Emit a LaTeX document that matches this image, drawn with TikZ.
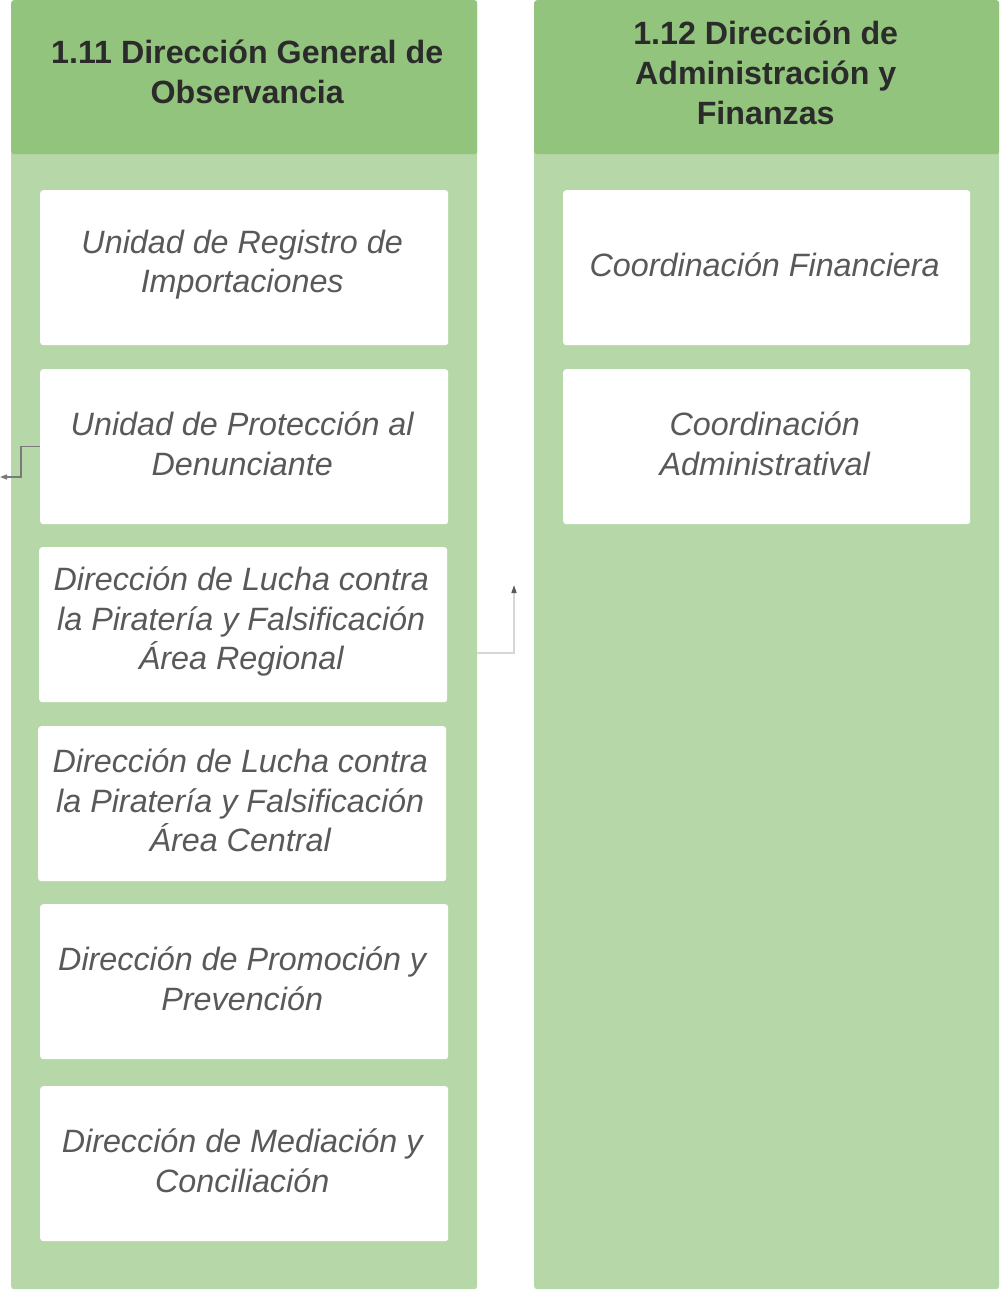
\documentclass[tikz,border=0pt]{standalone}
\usepackage{fontspec}
\setmainfont{Liberation Sans}
\usetikzlibrary{arrows.meta}
\definecolor{hdr}{HTML}{93C47D}
\definecolor{bod}{HTML}{B6D7A8}
\definecolor{htxt}{HTML}{2B2B2B}
\definecolor{btxt}{HTML}{595959}
\definecolor{lnA}{HTML}{7A7A7A}
\definecolor{lnB}{HTML}{D6D6D6}
\begin{document}
\begin{tikzpicture}[x=1pt,y=-1pt,
  colbody/.style={fill=bod, rounded corners=3pt, inner sep=0pt, anchor=north west, minimum width=466pt, minimum height=1289pt},
  colhead/.style={fill=hdr, rounded corners=3pt, inner sep=0pt, anchor=north west, minimum width=466pt, minimum height=154pt},
  htitle/.style={text=htxt, font=\bfseries\fontsize{32.2}{40}\selectfont, align=center, inner sep=0pt},
  unitbox/.style={fill=white, rounded corners=3pt, inner sep=0pt, anchor=north west, minimum width=408pt, minimum height=155pt},
  utxt/.style={text=btxt, font=\itshape\fontsize{32.3}{39.5}\selectfont, align=center, inner sep=0pt},
  connA/.style={draw=lnA, line width=1.3pt, -{Triangle[length=7pt,width=5pt]}},
  connB/.style={draw=lnB, line width=1.5pt, -{Triangle[length=8pt,width=5pt,color=btxt]}}
]
\useasboundingbox (0,0) rectangle (1000,1290);
% columns
\node[colbody] (c1) at (11,0) {};
\node[colbody, minimum width=465pt] (c2) at (534,0) {};
\node[colhead] (h1) at (11,0) {};
\node[colhead, minimum width=465pt] (h2) at (534,0) {};
\node[htitle] (h1t) at ([xshift=3pt,yshift=5pt]h1.center) {1.11 Dirección General de\\Observancia};
\node[htitle] (h2t) at ([xshift=-1pt,yshift=4.5pt]h2.center) {1.12 Dirección de\\Administración y\\Finanzas};
% left boxes
\node[unitbox] (b1) at (40,190) {};
\node[unitbox] (b2) at (40,369) {};
\node[unitbox] (b3) at (39,547) {};
\node[unitbox] (b4) at (38,726) {};
\node[unitbox] (b5) at (40,904) {};
\node[unitbox] (b6) at (40,1086) {};
\node[utxt] (t1) at ([xshift=-2pt,yshift=3pt]b1.center) {Unidad de Registro de\\Importaciones};
\node[utxt] (t2) at ([xshift=-2pt,yshift=3pt]b2.center) {Unidad de Protección al\\Denunciante};
\node[utxt] (t3) at ([xshift=-2pt,yshift=3pt]b3.center) {Dirección de Lucha contra\\la Piratería y Falsificación\\Área Regional};
\node[utxt] (t4) at ([xshift=-2pt,yshift=3pt]b4.center) {Dirección de Lucha contra\\la Piratería y Falsificación\\Área Central};
\node[utxt] (t5) at ([xshift=-2pt,yshift=3pt]b5.center) {Dirección de Promoción y\\Prevención};
\node[utxt] (t6) at ([xshift=-2pt,yshift=3pt]b6.center) {Dirección de Mediación y\\Conciliación};
% right boxes
\node[unitbox, minimum width=407pt] (r1) at (563,190) {};
\node[unitbox, minimum width=407pt] (r2) at (563,369) {};
\node[utxt] (rt1) at ([xshift=-2pt,yshift=3pt]r1.center) {Coordinación Financiera};
\node[utxt] (rt2) at ([xshift=-2pt,yshift=3pt]r2.center) {Coordinación\\Administratival};
% connectors
\coordinate (la) at (0,477);
\draw[connA] (b2.west) -- ++(-19,0) |- (la);
\coordinate (ms) at (477,653);
\coordinate (me) at (514,585);
\draw[connB] (ms) -| (me);
\end{tikzpicture}
\end{document}
